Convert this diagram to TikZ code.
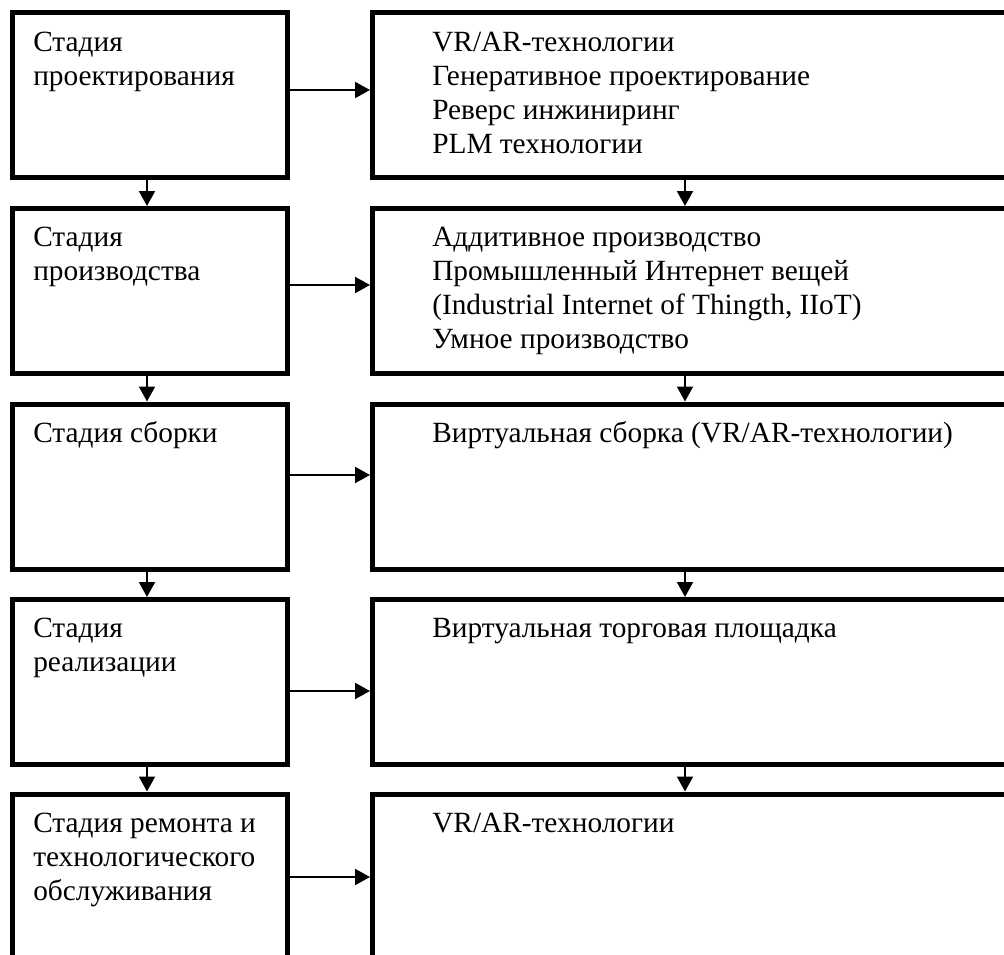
\documentclass[tikz,border=0pt]{standalone}
\usepackage{fontspec}
\setmainfont{Liberation Serif}
\usetikzlibrary{arrows.meta}
\newcommand\stacklines[1]{\begin{tabular}[t]{@{}l@{}}#1\end{tabular}}
\tikzset{
  stagebox/.style={draw, line width=3.75pt, rectangle, inner sep=0pt, minimum width=206.6pt, minimum height=124.1pt},
  techbox/.style={draw, line width=3.75pt, rectangle, inner sep=0pt, minimum width=493.1pt, minimum height=124.1pt},
  txt/.style={anchor=base west, inner sep=0pt, font=\fontsize{22pt}{25.5pt}\selectfont},
  arr/.style={line width=1.5pt, -{Triangle[length=11.25pt,width=12pt]}}
}
\begin{document}
\begin{tikzpicture}[x=0.75pt,y=-0.75pt]
\useasboundingbox (0,0) rectangle (1004,955);
\clip (0,0) rectangle (1004,955);
% boxes
\node[stagebox] (l1) at (149.75,95.25) {};
\node[stagebox] (l2) at (149.75,291.25) {};
\node[stagebox] (l3) at (149.75,486.75) {};
\node[stagebox] (l4) at (149.75,682.25) {};
\node[stagebox, minimum height=150pt] (l5) at (149.75,894) {};
\node[techbox] (r1) at (701.25,95.25) {};
\node[techbox] (r2) at (701.25,291.25) {};
\node[techbox] (r3) at (701.25,486.75) {};
\node[techbox] (r4) at (701.25,682.25) {};
\node[techbox, minimum height=150pt] (r5) at (701.25,894) {};
% texts
\node[txt] (t1) at (33,51.5) {\stacklines{Стадия\\проектирования}};
\node[txt] (t2) at (33,247) {\stacklines{Стадия\\производства}};
\node[txt] (t3) at (33,442.5) {\stacklines{Стадия сборки}};
\node[txt] (t4) at (33,638) {\stacklines{Стадия\\реализации}};
\node[txt] (t5) at (33,832.5) {\stacklines{Стадия ремонта и\\технологического\\обслуживания}};
\node[txt] (u1) at (432,51.5) {\stacklines{VR/AR-технологии\\Генеративное проектирование\\Реверс инжиниринг\\PLM технологии}};
\node[txt] (u2) at (432,247) {\stacklines{Аддитивное производство\\Промышленный Интернет вещей\\(Industrial Internet of Thingth, IIoT)\\Умное производство}};
\node[txt] (u3) at (432,442.5) {\stacklines{Виртуальная сборка (VR/AR-технологии)}};
\node[txt] (u4) at (432,638) {\stacklines{Виртуальная торговая площадка}};
\node[txt] (u5) at (432,832.5) {\stacklines{VR/AR-технологии}};
% horizontal arrows
\draw[arr] (l1.east |- 0,90) -- (r1.west |- 0,90);
\draw[arr] (l2.east |- 0,285) -- (r2.west |- 0,285);
\draw[arr] (l3.east |- 0,475) -- (r3.west |- 0,475);
\draw[arr] (l4.east |- 0,691) -- (r4.west |- 0,691);
\draw[arr] (l5.east |- 0,877) -- (r5.west |- 0,877);
% vertical arrows
\draw[arr] (l1.south -| 147,0) -- (l2.north -| 147,0);
\draw[arr] (l2.south -| 147,0) -- (l3.north -| 147,0);
\draw[arr] (l3.south -| 147,0) -- (l4.north -| 147,0);
\draw[arr] (l4.south -| 147,0) -- (l5.north -| 147,0);
\draw[arr] (r1.south -| 685,0) -- (r2.north -| 685,0);
\draw[arr] (r2.south -| 685,0) -- (r3.north -| 685,0);
\draw[arr] (r3.south -| 685,0) -- (r4.north -| 685,0);
\draw[arr] (r4.south -| 685,0) -- (r5.north -| 685,0);
\end{tikzpicture}
\end{document}
